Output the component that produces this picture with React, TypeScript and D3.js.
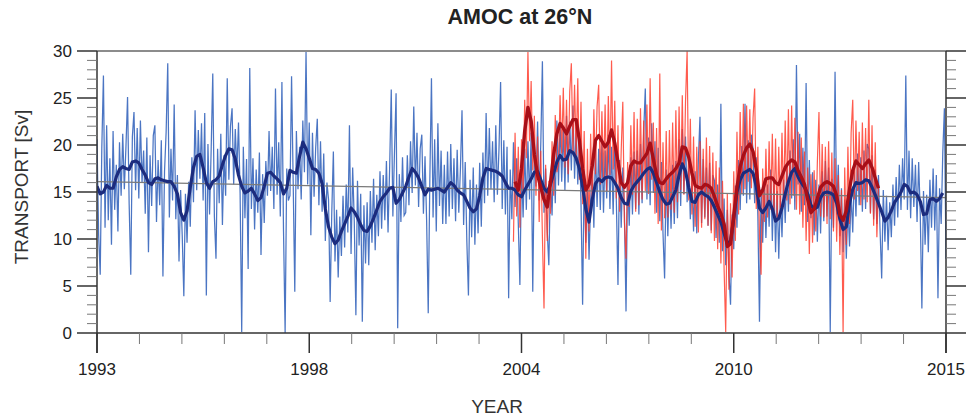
import React from "react";
import * as d3 from "d3";

const W = 968;
const H = 420;

// x axis: 20 equal intervals from 1993 to 2015, labelled every 5th
const X_START = 1993;
const X_END = 2015;
const xTickLabels = ["1993", "1998", "2004", "2010", "2015"];
const yTicks = [0, 5, 10, 15, 20, 25, 30];

// thin blue series: 24 values per year from 1993.0
const blueThin: number[] = [
  // 1993
  20.6, 10.5, 6.2, 19.8, 27.4, 11.2, 22.1, 12.0, 18.6, 9.4, 21.5, 13.1, 17.9, 10.8, 20.3, 14.6, 21.2, 15.3, 19.8, 25.1, 13.7, 6.2, 20.9, 23.5,
  // 1994
  15.2, 21.8, 14.3, 22.6, 16.0, 19.4, 12.7, 20.8, 8.6, 18.9, 13.5, 21.0, 22.1, 11.8, 18.4, 13.6, 20.5, 6.0, 17.2, 21.4, 28.7, 12.3, 19.6, 14.1,
  // 1995
  24.3, 12.1, 16.8, 7.6, 15.2, 10.4, 3.9, 14.8, 9.6, 16.1, 11.3, 18.7, 13.9, 23.7, 15.2, 21.6, 16.4, 22.3, 14.1, 23.4, 4.0, 20.1, 12.6, 19.5,
  // 1996
  27.6, 12.4, 7.9, 19.6, 13.8, 21.2, 11.5, 18.9, 14.6, 27.1, 16.3, 22.0, 23.9, 15.8, 21.7, 17.2, 22.4, 14.9, 0.1, 19.8, 12.2, 18.5, 6.8, 28.2,
  // 1997
  13.2, 18.6, 11.0, 17.4, 12.8, 19.2, 8.3, 16.9, 11.7, 18.3, 14.6, 21.5, 15.1, 19.8, 13.2, 26.0, 14.7, 20.3, 12.4, 26.7, 10.8, 0.0, 17.5, 14.1,
  // 1998
  14.6, 27.3, 16.2, 4.4, 21.5, 15.3, 19.8, 14.2, 22.6, 17.1, 29.9, 15.8, 22.4, 10.4, 21.3, 14.5, 19.7, 22.8, 13.6, 20.4, 12.9, 19.1, 9.8, 16.0,
  // 1999
  14.2, 3.3, 12.8, 19.3, 7.6, 13.1, 5.9, 12.4, 8.2, 14.6, 9.1, 15.8, 10.7, 22.1, 8.4, 17.6, 11.9, 1.9, 16.2, 9.3, 14.8, 1.2, 13.6, 7.4,
  // 2000
  13.9, 7.2, 15.1, 9.6, 16.4, 8.8, 14.7, 10.3, 17.2, 11.1, 16.8, 12.0, 18.3, 10.7, 17.6, 25.9, 12.4, 19.2, 25.5, 0.5, 16.9, 11.8, 18.7, 12.5,
  // 2001
  12.8, 18.9, 13.6, 20.4, 14.9, 24.1, 15.7, 21.3, 13.4, 19.6, 21.1, 12.7, 18.8, 11.9, 2.1, 16.4, 27.1, 12.3, 20.6, 10.8, 22.3, 13.5, 19.4, 11.6,
  // 2002
  17.9, 11.6, 19.3, 12.4, 20.1, 13.2, 18.6, 11.9, 19.5, 12.8, 17.4, 23.7, 11.5, 18.2, 9.8, 4.0, 16.3, 10.2, 17.6, 9.4, 15.8, 10.6, 18.1, 11.3,
  // 2003
  19.2, 13.8, 23.4, 14.6, 21.8, 15.3, 20.4, 13.9, 22.1, 14.7, 19.6, 26.7, 13.2, 20.5, 12.6, 19.8, 3.7, 17.4, 12.1, 20.3, 13.4, 18.6, 11.7, 5.1,
  // 2004
  17.8, 12.3, 19.6, 13.1, 20.4, 14.2, 21.3, 4.4, 18.7, 15.6, 22.5, 14.1, 20.2, 28.9, 12.8, 17.5, 10.9, 7.2, 16.3, 12.5, 19.4, 13.8, 22.6, 15.7,
  // 2005
  22.4, 16.1, 21.7, 15.2, 23.1, 16.0, 22.5, 17.3, 24.2, 16.4, 21.9, 15.8, 20.6, 13.9, 3.0, 17.2, 9.6, 15.4, 7.8, 14.1, 17.5, 11.2, 19.8, 13.4,
  // 2006
  19.6, 13.1, 20.2, 12.8, 19.4, 14.3, 21.1, 13.2, 19.8, 12.6, 20.7, 13.9, 5.1, 18.4, 11.2, 17.6, 12.9, 2.3, 16.8, 11.4, 18.7, 12.6, 19.3, 13.2,
  // 2007
  19.4, 12.6, 20.1, 13.8, 21.5, 26.0, 14.2, 20.8, 13.6, 22.3, 14.9, 20.4, 12.8, 19.7, 11.9, 18.2, 10.6, 5.8, 17.4, 10.3, 16.8, 11.1, 17.9, 11.6,
  // 2008
  18.3, 12.2, 20.6, 13.5, 21.7, 14.8, 20.9, 13.9, 18.2, 12.1, 16.9, 10.8, 17.2, 10.6, 18.4, 23.0, 11.7, 18.5, 12.3, 17.6, 11.4, 18.1, 10.9, 16.8,
  // 2009
  16.2, 10.1, 15.8, 9.6, 24.4, 8.7, 14.3, 7.2, 13.1, 6.4, 3.0, 12.6, 8.9, 15.7, 11.2, 18.4, 13.1, 19.9, 14.6, 24.4, 13.8, 20.5, 14.2, 21.1,
  // 2010
  19.6, 13.8, 18.7, 12.4, 1.2, 15.3, 9.6, 16.2, 10.1, 15.8, 11.3, 17.4, 9.8, 16.5, 8.6, 15.1, 7.9, 14.6, 10.2, 16.3, 11.7, 17.8, 12.9, 19.4,
  // 2011
  14.3, 20.6, 13.1, 28.5, 15.8, 21.2, 12.9, 19.7, 13.6, 26.6, 11.8, 18.4, 12.2, 17.1, 10.4, 16.3, 9.7, 15.8, 10.6, 17.2, 11.9, 18.3, 12.4, 17.6,
  // 2012
  0.1, 16.4, 11.2, 27.8, 12.6, 17.9, 10.3, 15.4, 8.6, 14.2, 7.9, 13.6, 9.2, 14.8, 10.7, 17.3, 12.4, 19.1, 13.6, 18.7, 12.9, 19.4, 13.2, 20.1,
  // 2013
  19.6, 12.8, 18.9, 12.1, 17.4, 11.6, 16.8, 10.9, 5.8, 15.2, 9.7, 14.6, 8.8, 13.9, 10.2, 15.8, 11.4, 16.6, 12.3, 17.9, 13.1, 18.6, 14.2, 27.4,
  // 2014
  13.1, 19.4, 12.2, 18.6, 13.4, 17.9, 11.8, 18.2, 12.6, 2.6, 15.1, 9.4, 14.7, 8.6, 16.3, 11.2, 17.5, 10.9, 16.8, 3.7, 15.4, 11.6, 19.2, 23.9,
  // 2015
  7.9,
];

// smoothed blue series: 12 values per year from 1993.0
const blueSmooth: number[] = [
  15.6, 14.8, 15.0, 15.7, 15.4, 15.4, 16.6, 17.4, 17.7, 17.5, 17.4, 18.2,
  18.3, 18.1, 17.4, 16.8, 16.0, 15.8, 16.4, 16.5, 16.3, 16.2, 16.1, 16.1,
  15.6, 14.8, 12.8, 12.0, 13.0, 15.5, 17.6, 18.8, 19.0, 17.6, 16.0, 15.4,
  16.1, 16.3, 16.7, 17.9, 18.9, 19.6, 19.5, 18.5, 16.8, 15.6, 14.9, 15.1,
  15.4, 14.8, 14.1, 14.4, 15.6, 17.0, 17.1, 16.7, 16.4, 16.0, 14.8, 15.4,
  17.3, 17.1, 17.0, 18.8, 20.3, 19.6, 18.6, 17.5, 17.4, 17.0, 15.9, 13.2,
  11.3, 10.2, 9.5, 9.9, 10.8, 11.6, 12.4, 13.3, 12.9, 12.3, 11.5, 10.9,
  10.8, 11.4, 12.2, 13.1, 14.0, 14.5, 14.9, 15.4, 15.5, 13.8, 14.2, 14.9,
  15.6, 16.6, 17.5, 17.1, 16.5, 15.6, 14.7, 15.3, 15.2, 15.3, 15.4, 15.2,
  15.0, 15.5, 16.0, 15.7, 15.2, 14.9, 14.7, 14.0, 13.3, 12.9, 13.2, 14.6,
  16.5, 17.5, 17.4, 17.3, 17.2, 17.0, 16.7, 16.0, 15.4, 15.4, 15.2, 14.7,
  14.5, 15.2, 15.8, 16.4, 17.1, 17.2, 16.3, 15.4, 15.0, 15.8, 17.0, 18.2,
  18.9, 18.4, 18.5, 19.4, 19.2, 18.6, 17.5, 15.6, 13.2, 11.8, 14.2, 15.9,
  16.4, 16.1, 16.5, 16.6, 16.5, 16.0, 15.4, 14.4, 13.8, 13.7, 15.1, 15.7,
  16.1, 16.5, 17.0, 17.4, 17.6, 17.0, 16.0, 15.0, 14.2, 13.7, 13.8, 14.5,
  15.2, 16.8, 18.0, 17.2, 15.5, 14.0, 13.9, 14.7, 15.0, 14.7, 14.5, 14.1,
  13.4, 12.6, 11.8, 10.6, 9.5, 9.8, 12.2, 15.0, 16.3, 17.0, 17.2, 17.4,
  17.0, 15.6, 13.3, 12.8, 13.3, 14.0, 13.2, 11.9, 12.2, 13.3, 14.8, 16.1,
  17.1, 17.5, 16.6, 16.0, 15.5, 14.8, 13.6, 13.2, 13.4, 14.4, 14.9, 15.0,
  14.9, 14.7, 13.8, 12.1, 11.0, 11.3, 13.8, 15.3, 16.0, 15.9, 16.0, 16.3,
  16.2, 15.5, 14.7, 13.8, 12.9, 11.9, 12.3, 13.0, 13.9, 14.4, 15.0, 15.8,
  15.6, 14.9, 15.0, 14.7, 14.0, 12.6, 12.7, 14.2, 14.3, 14.0, 14.3, 14.9,
];

// thin red series (observations): 24 values per year from 2003.79
const RED_THIN_START = 1993 + 259 / 24;
const redThin: number[] = [
  9.7, 21.3, 12.4, 19.8, 11.2, 20.6, 14.9, 24.8, 18.6, 29.9, 20.4, 26.8, 17.3, 23.1, 14.6, 20.9, 11.8, 19.4, 10.3, 2.6, 17.9, 9.8, 16.2, 12.7,
  20.4, 14.6, 23.2, 17.1, 18.0, 25.3, 19.1, 26.1, 17.6, 24.8, 16.9, 25.7, 28.7, 19.2, 26.4, 18.8, 27.1, 16.3, 24.6, 13.7, 21.5, 7.9, 19.6, 10.8,
  21.2, 13.6, 23.8, 16.9, 24.1, 26.4, 15.8, 23.6, 16.2, 24.3, 15.1, 25.2, 16.8, 29.0, 17.4, 24.7, 14.3, 22.1, 12.9, 19.4, 24.6, 11.8, 7.9, 18.2,
  13.4, 22.1, 14.7, 23.5, 12.9, 22.8, 13.6, 23.9, 14.2, 22.6, 15.1, 24.3, 14.8, 27.1, 16.3, 22.4, 12.7, 21.8, 11.6, 27.6, 10.9, 20.3, 12.2, 21.5,
  12.3, 21.6, 13.1, 22.4, 12.8, 23.7, 13.9, 24.1, 15.2, 25.3, 14.7, 24.6, 30.0, 14.1, 22.8, 12.6, 20.9, 11.3, 19.8, 10.7, 20.4, 11.2, 19.6, 12.1,
  20.8, 11.4, 19.9, 10.6, 19.2, 9.8, 18.3, 8.9, 17.6, 7.4, 16.2, 6.8, 0.1, 14.9, 4.6, 13.8, 5.9, 17.2, 9.8, 21.4, 12.6, 23.5, 14.8, 24.4,
  15.3, 24.2, 16.1, 23.8, 15.4, 22.9, 26.0, 13.2, 19.8, 10.4, 6.2, 17.5, 11.8, 19.6, 12.3, 20.4, 13.1, 21.2, 12.4, 20.7, 11.9, 19.8, 12.6, 21.3,
  13.4, 22.6, 14.1, 23.8, 13.7, 24.2, 14.6, 22.9, 13.1, 21.4, 12.6, 20.8, 11.2, 19.3, 9.8, 17.6, 8.4, 16.9, 9.6, 17.3, 10.8, 18.2, 23.5, 12.4,
  20.1, 12.3, 19.8, 11.6, 20.4, 12.1, 19.2, 10.8, 18.6, 9.7, 16.8, 8.3, 15.2, 0.1, 17.6, 9.4, 19.8, 11.6, 21.3, 24.8, 14.2, 22.6, 15.1, 21.4,
  13.6, 22.4, 14.2, 21.8, 13.9, 24.8, 12.7, 22.1, 11.4, 20.3, 10.2, 15.6,
];

// smoothed red series: 12 values per year from 2003.83
const RED_SMOOTH_START = 1993 + 260 / 24;
const redSmooth: number[] = [
  16.1, 15.2, 17.5, 21.5, 24.0, 22.5, 19.0, 16.8, 15.5, 14.2, 13.4, 16.0,
  19.0, 21.2, 22.3, 21.8, 21.2, 22.0, 22.7, 22.7, 20.5, 17.5, 15.2, 15.8,
  17.8, 20.5, 21.0, 20.4, 19.8, 20.3, 21.6, 20.2, 18.2, 16.0, 15.5, 16.0,
  17.8, 18.3, 18.1, 18.1, 18.6, 19.1, 20.2, 18.5, 16.8, 16.0, 15.9, 16.4,
  16.8, 17.1, 17.5, 18.1, 19.8, 19.7, 18.7, 17.0, 15.7, 15.5, 15.4, 15.8,
  15.7, 15.4, 14.5, 13.5, 12.7, 11.6, 9.2, 9.5, 12.5, 15.5, 17.7, 18.9,
  19.7, 20.1, 19.3, 17.4, 14.6, 15.2, 16.4, 16.5, 16.5, 16.0, 15.8, 16.7,
  17.6, 18.1, 18.4, 18.2, 17.3, 16.6, 15.8, 14.2, 12.8, 13.2, 14.3, 15.5,
  15.9, 16.1, 15.9, 15.6, 14.6, 12.6, 12.0, 13.0, 15.3, 17.3, 18.3, 17.9,
  17.5, 18.0, 18.4, 17.6, 16.5, 15.4,
];

// linear trend line
const trendYears = [1993, 2015];
const trendValues = [16.1, 14.4];

const FONT = "'Liberation Sans', Arial, Helvetica, sans-serif";

export default function App() {
  const left = 97;
  const right = 946;
  const top = 51;
  const bottom = 333;

  const x = d3.scaleLinear().domain([X_START, X_END]).range([left, right]);
  const y = d3.scaleLinear().domain([0, 30]).range([bottom, top]);

  type P = [number, number];
  const line = d3
    .line<P>()
    .x((d) => x(d[0]))
    .y((d) => y(d[1]));

  const bt: P[] = blueThin.map((v, i) => [X_START + i / 24, v]);
  const bs: P[] = blueSmooth.map((v, i) => [X_START + i / 12, v]);
  const rt: P[] = redThin.map((v, i) => [RED_THIN_START + i / 24, v]);
  const rs: P[] = redSmooth.map((v, i) => [RED_SMOOTH_START + i / 12, v]);
  const tr: P[] = trendYears.map((t, i) => [t, trendValues[i]]);

  const xTicks = d3.range(0, 21).map((i) => X_START + (i * (X_END - X_START)) / 20);
  const yMinor = d3.range(0, 31);
  const axisColor = "#333";

  return (
    <svg
      width={W}
      height={H}
      style={{ position: "absolute", left: 0, top: 0, background: "#fff" }}
      fontFamily={FONT}
    >
      <rect x={0} y={0} width={W} height={H} fill="#fff" />
      <defs>
        <clipPath id="plotclip">
          <rect x={left} y={top - 1} width={right - left} height={bottom - top + 2} />
        </clipPath>
      </defs>

      {/* title */}
      <text x={520} y={24} textAnchor="middle" fontSize={21.5} fontWeight="bold" fill="#222">
        AMOC at 26°N
      </text>

      <g clipPath="url(#plotclip)">
        <path d={line(bt) ?? ""} fill="none" stroke="#2c5db8" strokeWidth={1.25} strokeOpacity={0.85} />
        <path d={line(rt) ?? ""} fill="none" stroke="#ff3222" strokeWidth={1.2} strokeOpacity={0.8} />
        <path d={line(tr) ?? ""} fill="none" stroke="#7a7a7a" strokeWidth={1.2} />
        <path d={line(bs) ?? ""} fill="none" stroke="#1c2c7e" strokeWidth={3.2} strokeLinejoin="round" />
        <path d={line(rs) ?? ""} fill="none" stroke="#a80f18" strokeWidth={3.4} strokeLinejoin="round" />
      </g>

      {/* frame */}
      <line x1={left} x2={right} y1={top} y2={top} stroke="#666" strokeWidth={1.5} />
      <line x1={left} x2={right} y1={bottom} y2={bottom} stroke={axisColor} strokeWidth={1.5} />
      <line x1={left} x2={left} y1={top} y2={bottom + 20} stroke={axisColor} strokeWidth={1.5} />
      <line x1={right} x2={right} y1={top} y2={bottom + 20} stroke={axisColor} strokeWidth={1.5} />

      {/* y ticks, both sides */}
      {yMinor.map((v) => {
        const major = v % 5 === 0;
        const len = major ? 20 : 10;
        return (
          <g key={"y" + v}>
            <line x1={left - len} x2={left} y1={y(v)} y2={y(v)} stroke={major ? axisColor : "#777"} strokeWidth={major ? 1.5 : 1} />
            <line x1={right} x2={right + len} y1={y(v)} y2={y(v)} stroke={major ? axisColor : "#777"} strokeWidth={major ? 1.5 : 1} />
          </g>
        );
      })}
      {yTicks.map((v) => (
        <text key={"yl" + v} x={72} y={y(v)} dy="0.36em" textAnchor="end" fontSize={17} fill="#222">
          {v}
        </text>
      ))}

      {/* x ticks */}
      {xTicks.map((t, i) => {
        const major = i % 5 === 0;
        return (
          <line
            key={"x" + i}
            x1={x(t)}
            x2={x(t)}
            y1={bottom}
            y2={bottom + (major ? 20 : 11)}
            stroke={major ? axisColor : "#777"}
            strokeWidth={major ? 1.5 : 1}
          />
        );
      })}
      {xTicks
        .filter((_, i) => i % 5 === 0)
        .map((t, i) => (
          <text key={"xl" + i} x={x(t)} y={375} textAnchor="middle" fontSize={17} fill="#222">
            {xTickLabels[i]}
          </text>
        ))}

      {/* axis titles */}
      <text x={497} y={413} textAnchor="middle" fontSize={19} fill="#333">
        YEAR
      </text>
      <text
        transform={`translate(28,187) rotate(-90)`}
        textAnchor="middle"
        fontSize={19}
        fill="#333"
      >
        TRANSPORT [Sv]
      </text>
    </svg>
  );
}
